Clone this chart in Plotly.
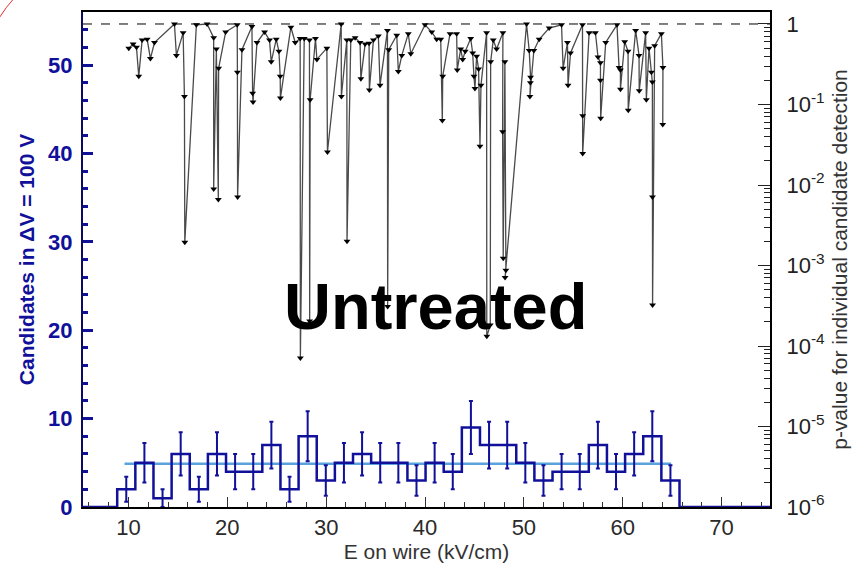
import numpy as np
import plotly.graph_objects as go

# ---------------- data ----------------
# histogram of candidates (bins of dV = 100 V)
bin_start = 8.86          # kV/cm, left edge of first bin
bin_width = 1.835         # kV/cm
counts = [2, 5, 1, 6, 2, 6, 4, 4, 7, 2, 8, 3, 5, 6, 5, 5, 3, 5, 4, 9, 7, 7,
          5, 3, 4, 4, 7, 4, 6, 8, 3]
fit_level = 4.9
fit_range = [9.6, 64.9]

# p-values for individual candidates (E in kV/cm, log10 p)
p_E = [10.03, 10.47, 10.81, 11.04, 11.38, 11.89, 12.22, 12.63, 14.65, 14.85,
       15.53, 15.66, 15.70, 16.87, 17.95, 18.62, 18.62, 18.89, 19.09, 19.12,
       19.83, 21.00, 21.02, 21.04, 21.48, 22.49, 22.56, 22.60, 23.00, 23.77,
       24.27, 24.44, 24.95, 25.22, 25.35, 25.37, 26.43, 26.87, 27.37, 27.39,
       27.78, 28.31, 28.33, 28.38, 28.92, 29.06, 30.07, 30.13, 31.52, 31.54,
       32.09, 32.11, 32.49, 32.93, 33.43, 33.51, 33.94, 34.34, 34.37, 34.78,
       35.28, 35.45, 36.20, 36.22, 36.33, 37.14, 37.30, 37.65, 38.31, 38.56,
       40.00, 40.68, 41.18, 41.59, 41.75, 41.79, 42.53, 43.20, 43.26, 43.61,
       43.81, 44.07, 44.62, 44.82, 44.95, 45.05, 45.22, 45.42, 45.56, 45.66,
       46.23, 46.25, 46.60, 46.64, 46.90, 47.24, 47.88, 47.85, 47.91, 48.08,
       48.18, 48.10, 50.27, 50.54, 50.68, 50.66, 50.61, 51.01, 51.55, 52.56,
       53.81, 53.97, 54.41, 54.47, 54.72, 55.93, 55.95, 55.95, 56.60, 57.24,
       57.50, 57.75, 57.75, 57.77, 58.28, 59.42, 59.63, 59.77, 59.77, 60.20,
       60.54, 60.56, 61.31, 61.65, 61.67, 62.32, 62.39, 62.66, 62.90, 63.00,
       63.01, 63.02, 63.23, 63.91, 64.07, 64.05]
p_log10 = [-0.30, -0.25, -0.29, -0.65, -0.20, -0.19, -0.43, -0.23, 0.00, -0.39,
           -0.11, -0.90, -2.71, -0.01, 0.00, -0.17, -2.05, -0.31, -2.18, -0.55,
           -0.10, -0.01, -0.60, -2.15, -0.32, -0.03, -0.86, -0.97, -0.23, -0.10,
           -0.20, -0.47, -0.19, -0.34, -0.65, -0.92, -0.04, -0.23, -0.18, -4.15,
           -0.18, -0.20, -3.69, -0.94, -0.18, -0.44, -0.30, -1.59, 0.00, -0.90,
           -0.20, -2.70, -0.20, -0.17, -0.23, -0.68, -0.25, -0.24, -0.82, -0.20,
           -0.15, -0.76, -0.08, -3.51, -0.32, -0.14, -0.59, -0.39, -0.12, -0.37,
           -0.01, -0.10, -0.19, -0.19, -1.20, -0.65, -0.12, -0.12, -0.57, -0.31,
           -0.44, -0.34, -0.18, -0.36, -0.65, -0.80, -0.40, -0.56, -1.52, -0.76,
           -0.11, -3.88, -3.74, -0.47, -0.20, -0.31, -0.11, -1.34, -2.91, -0.47,
           -3.06, -3.15, 0.00, -0.33, -0.66, -0.73, -0.90, -0.33, -0.19, -0.05,
           -0.01, -0.55, -0.23, -0.76, -0.36, -0.01, -1.14, -1.61, -0.11, -0.11,
           -0.41, -0.48, -0.70, -1.17, -0.23, -0.01, -0.54, -0.57, -0.81, -0.22,
           -0.34, -1.07, -0.08, -0.39, -0.83, -0.11, -0.94, -0.30, -0.60, -0.72,
           -2.15, -3.49, -0.27, -0.12, -0.54, -1.25]

x_range = [5.4, 74.9]
left_ticks = [0, 10, 20, 30, 40, 50]
right_tickvals = [1e-6, 1e-5, 1e-4, 1e-3, 1e-2, 1e-1, 1]
right_ticktext = ["10<sup>-6</sup>", "10<sup>-5</sup>", "10<sup>-4</sup>",
                  "10<sup>-3</sup>", "10<sup>-2</sup>", "10<sup>-1</sup>", "1"]

# ---------------- figure ----------------
BLUE = "#10109a"
FIT = "#5aa2dc"
FONT = "Liberation Sans, Arial, sans-serif"

counts_a = np.array(counts, dtype=float)
edges = bin_start + bin_width * np.arange(len(counts) + 1)
centers = 0.5 * (edges[:-1] + edges[1:])

fig = go.Figure()

# fit line
fig.add_trace(go.Scatter(x=fit_range, y=[fit_level, fit_level], mode="lines",
                         line=dict(color=FIT, width=2.5), hoverinfo="skip",
                         showlegend=False))

# histogram step (with empty regions at 0)
step_x = [x_range[0]] + list(edges) + [x_range[1]]
step_y = [0] + list(counts_a) + [0, 0]
fig.add_trace(go.Scatter(x=step_x, y=step_y, mode="lines", line_shape="hv",
                         line=dict(color=BLUE, width=2.5), showlegend=False))

# error bars
nz = counts_a > 0
fig.add_trace(go.Scatter(x=centers[nz], y=counts_a[nz], mode="markers",
                         marker=dict(size=2, color=BLUE),
                         error_y=dict(type="data", array=np.sqrt(counts_a[nz]),
                                      color=BLUE, thickness=2, width=2),
                         showlegend=False))

# p = 1 dashed reference
fig.add_trace(go.Scatter(x=x_range, y=[1, 1], yaxis="y2", mode="lines",
                         line=dict(color="black", width=1, dash="dash"),
                         showlegend=False))

# p-values
fig.add_trace(go.Scatter(x=p_E, y=[10 ** v for v in p_log10], yaxis="y2",
                         mode="lines+markers",
                         line=dict(color="#4a4a4a", width=1.3),
                         marker=dict(symbol="triangle-down", size=6, color="black"),
                         showlegend=False))

# dummy for minor-tick axis
fig.add_trace(go.Scatter(x=[30], y=[0.5], yaxis="y3", mode="markers",
                         marker=dict(opacity=0), hoverinfo="skip", showlegend=False))

minor_vals = []
for d in range(-6, 0):
    for m in range(2, 10):
        minor_vals.append(m * 10 ** d)

fig.update_layout(
    width=854, height=564,
    margin=dict(l=83, r=84, t=12, b=57),
    paper_bgcolor="white", plot_bgcolor="white",
    font=dict(family=FONT),
    xaxis=dict(range=x_range, tick0=0, dtick=10, ticks="inside", ticklen=10,
               tickwidth=1.2, tickcolor="#333", showgrid=False, zeroline=False,
               showline=True, linecolor="black", linewidth=2, mirror=True,
               automargin=False,
               minor=dict(dtick=2, ticks="inside", ticklen=5, tickcolor="#333"),
               tickfont=dict(size=22, color="#2a2a2a"),
               ticklabelstandoff=0,
               title=dict(text="E on wire (kV/cm)", font=dict(size=21, color="#333"),
                          standoff=2)),
    yaxis=dict(range=[0, 56], tickvals=left_ticks, ticks="inside", ticklen=10,
               tickwidth=2.5, tickcolor=BLUE, showgrid=False, zeroline=False,
               showline=True, linecolor="#0b0b60", linewidth=2, automargin=False,
               minor=dict(dtick=2, ticks="inside", ticklen=5, tickwidth=2.5,
                          tickcolor=BLUE),
               tickfont=dict(size=22, color=BLUE, weight="bold"),
               ticklabelstandoff=4,
               title=dict(text="Candidates in \u0394V = 100 V",
                          font=dict(size=21, color=BLUE, weight="bold"),
                          standoff=8)),
    yaxis2=dict(overlaying="y", side="right", type="log", range=[-6, 0.149],
                tickvals=right_tickvals, ticktext=right_ticktext,
                ticks="inside", ticklen=12, tickcolor="#222", showgrid=False,
                showline=True, linecolor="black", linewidth=2, zeroline=False,
                automargin=False,
                tickfont=dict(size=22, color="#222"),
                ticklabelstandoff=10,
                title=dict(text="p-value for individual candidate detection",
                           font=dict(size=21, color="#333"), standoff=8)),
    yaxis3=dict(overlaying="y", side="right", type="log", range=[-6, 0.149],
                tickvals=minor_vals, ticks="inside", ticklen=6, tickcolor="#222",
                showticklabels=False, showgrid=False, showline=False,
                zeroline=False, automargin=False),
    annotations=[dict(text="<b>Untreated</b>", xref="paper", yref="paper",
                      x=0.513, y=0.405, xanchor="center", yanchor="middle",
                      showarrow=False, font=dict(size=65, color="black", family=FONT))],
    shapes=[dict(type="path", xref="paper", yref="paper",
                 path="M -0.121 0.99 Q -0.112 1.01 -0.102 1.025",
                 line=dict(color="#e03030", width=1))],
)

fig.write_html("out.html", config={"displayModeBar": False},
               post_script="document.body.style.margin='0px';")
